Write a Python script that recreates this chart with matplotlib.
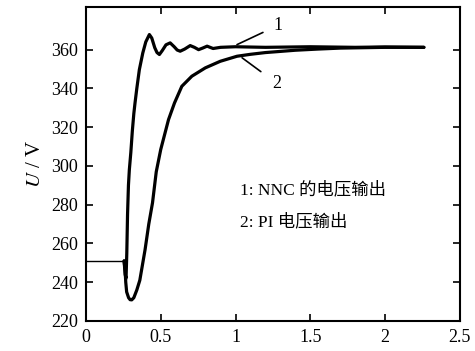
import matplotlib
matplotlib.use('Agg')
import matplotlib.pyplot as plt

plt.rcParams['font.family'] = ['Liberation Serif', 'Noto Sans CJK SC']
plt.rcParams['mathtext.fontset'] = 'stix'

# NNC voltage output (curve 1)
t1 = [0, 0.255, 0.262, 0.268, 0.273, 0.278, 0.284, 0.29, 0.30, 0.31, 0.32,
      0.328, 0.34, 0.357, 0.38, 0.40, 0.424, 0.44, 0.46, 0.475, 0.491, 0.51,
      0.535, 0.563, 0.59, 0.61, 0.63, 0.66, 0.697, 0.725, 0.753, 0.78,
      0.81, 0.85, 0.9, 1.0, 1.2, 1.5, 1.8, 2.0, 2.26]
u1 = [251, 251, 244, 242, 255, 275, 290, 298, 307, 318, 327,
      332.5, 340, 349.7, 358.3, 364, 367.8, 366, 361, 358.5, 357.5, 359.5,
      362.5, 363.5, 361.5, 359.8, 359.2, 360.3, 362.1, 361.2, 360, 360.8,
      361.8, 360.6, 361.2, 361.5, 361.2, 361.5, 361.2, 361.4, 361.2]

# PI voltage output (curve 2)
t2 = [0.255, 0.262, 0.266, 0.272, 0.285, 0.295, 0.306, 0.32, 0.34, 0.36,
      0.395, 0.42, 0.445, 0.47, 0.50, 0.552, 0.592, 0.641, 0.708, 0.798,
      0.898, 1.01, 1.1, 1.2, 1.3, 1.4, 1.55, 1.7, 2.0, 2.26]
u2 = [251, 246, 240, 235, 232, 231, 230.9, 232, 236, 241,
      256.7, 270, 281, 297, 308.5, 323.9, 332.5, 341.1, 346.3, 350.6,
      354, 356.6, 357.6, 358.5, 359.1, 359.7, 360.3, 360.8, 361.2, 361.2]

xticks = [0, 0.5, 1, 1.5, 2, 2.5]
xlabels = ['0', '0.5', '1', '1.5', '2', '2.5']
yticks = [220, 240, 260, 280, 300, 320, 340, 360]

fig = plt.figure(figsize=(4.75, 3.51), dpi=100)
ax = fig.add_axes([0.181, 0.0855, 0.787, 0.8945])

# steady part before the step is drawn thin, as in the original
ax.plot(t1[:2], u1[:2], color='black', lw=1.0)
ax.plot(t1[1:], u1[1:], color='black', lw=2.3, solid_capstyle='round')
ax.plot(t2, u2, color='black', lw=2.3, solid_capstyle='round')

ax.set_xlim(0, 2.5)
ax.set_ylim(220, 382)
ax.set_xticks(xticks)
ax.set_xticklabels(xlabels)
ax.set_yticks(yticks)
ax.tick_params(direction='in', top=True, right=True, length=5, width=1.2,
               labelsize=13, pad=6)
for s in ax.spines.values():
    s.set_linewidth(1.5)

ax.set_ylabel('$U$ / V', fontsize=15, labelpad=4)

ax.annotate('1', xy=(1.01, 362.6), xytext=(1.283, 372.5), fontsize=13,
            ha='center', va='center',
            arrowprops=dict(arrowstyle='-', lw=1.2, color='black', shrinkB=0,
                            shrinkA=6))
ax.annotate('2', xy=(1.044, 355.8), xytext=(1.278, 342.5), fontsize=13,
            ha='center', va='center',
            arrowprops=dict(arrowstyle='-', lw=1.2, color='black', shrinkB=0,
                            shrinkA=8))

ax.text(1.032, 287.7, '1: NNC 的电压输出', fontsize=12.5, ha='left', va='center')
ax.text(1.032, 271.3, '2: PI 电压输出', fontsize=12.5, ha='left', va='center')

fig.savefig('out.png', dpi=100)
